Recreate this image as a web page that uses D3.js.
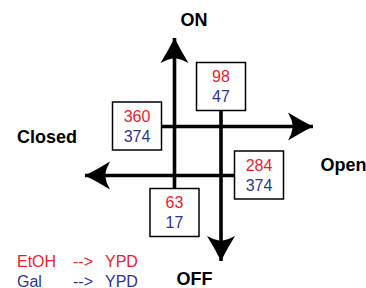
<!DOCTYPE html>
<html>
<head>
<meta charset="utf-8">
<script src="https://cdn.jsdelivr.net/npm/d3@7"></script>
<style>
  body { margin: 0; background: #fff; }
  svg { display: block; font-family: "Liberation Sans", Arial, Helvetica, sans-serif; }
</style>
</head>
<body>
<svg id="drawing_region"></svg>
<script>
// transition counts, one per direction (ON, OFF, Closed, Open)
const directions = ["ON", "OFF", "Closed", "Open"];
const etohValues = [98, 63, 360, 284];
const galValues = [47, 17, 374, 374];
const legendNames = ["EtOH", "Gal"];
const legendTarget = "YPD";
const seriesColors = ["#ec1c2b", "#2e3590"];

class StateDiagram {

    constructor( config ) {
        this.config = {
            parent: config.parent,
            width: config.width || 366,
            height: config.height || 288
        }
        this.init();
    }

    init() {
        let self = this;

        self.svg = d3.select( self.config.parent )
            .attr('width', self.config.width)
            .attr('height', self.config.height);

        // x / y in pixel space of the picture
        self.xscale = d3.scaleLinear().domain([0, 366]).range([0, self.config.width]);
        self.yscale = d3.scaleLinear().domain([0, 288]).range([0, self.config.height]);

        self.chart = self.svg.append('g');
    }

    render() {
        let self = this;
        const x = self.xscale, y = self.yscale;

        // where each box sits and where its arrow goes
        const layout = {
            ON:     { box: [221, 86.5], line: [[221, 111], [221, 261]], label: [194, 26] },
            OFF:    { box: [174.5, 212.5], line: [[174.5, 188], [174.5, 38]], label: [194.5, 284.5] },
            Closed: { box: [137, 126], line: [[162, 126.5], [313, 126.5]], label: [47, 143] },
            Open:   { box: [259, 175], line: [[234, 175.5], [85, 175.5]], label: [343.5, 171] }
        };

        const rows = directions.map( (d, i) => ({
            name: d, etoh: etohValues[i], gal: galValues[i], pos: layout[d]
        }));

        const arrow = 'M0,0 Q-12,-6 -25,-14 Q-21,-7 -20,0 Q-21,7 -25,14 Q-12,6 0,0 Z';

        // axis lines
        self.chart.selectAll('.axis')
            .data(rows)
            .enter()
            .append('line')
            .attr('class', 'axis')
            .attr('x1', d => x(d.pos.line[0][0]))
            .attr('y1', d => y(d.pos.line[0][1]))
            .attr('x2', d => x(d.pos.line[1][0]))
            .attr('y2', d => y(d.pos.line[1][1]))
            .attr('stroke', 'black')
            .attr('stroke-width', 3.6);

        self.chart.selectAll('.head')
            .data(rows)
            .enter()
            .append('path')
            .attr('class', 'head')
            .attr('d', arrow)
            .attr('fill', 'black')
            .attr('transform', d => {
                const [a, b] = d.pos.line;
                const ang = Math.atan2(b[1] - a[1], b[0] - a[0]) * 180 / Math.PI;
                return `translate(${x(b[0])},${y(b[1])}) rotate(${ang})`;
            });

        // boxes
        const bw = 49, bh = 48;
        const boxes = self.chart.selectAll('.box')
            .data(rows)
            .enter()
            .append('g')
            .attr('class', 'box')
            .attr('transform', d => `translate(${x(d.pos.box[0])},${y(d.pos.box[1])})`);

        boxes.append('rect')
            .attr('x', -bw / 2)
            .attr('y', -bh / 2)
            .attr('width', bw)
            .attr('height', bh)
            .attr('fill', 'white')
            .attr('stroke', 'black')
            .attr('stroke-width', 1.5);

        boxes.append('text')
            .attr('text-anchor', 'middle')
            .attr('y', -4.5)
            .style('font-size', '16px')
            .attr('fill', seriesColors[0])
            .text(d => d.etoh);

        boxes.append('text')
            .attr('text-anchor', 'middle')
            .attr('y', 15.5)
            .style('font-size', '16px')
            .attr('fill', seriesColors[1])
            .text(d => d.gal);

        // direction labels
        self.chart.selectAll('.dirlabel')
            .data(rows)
            .enter()
            .append('text')
            .attr('class', 'dirlabel')
            .attr('text-anchor', 'middle')
            .attr('x', d => x(d.pos.label[0]))
            .attr('y', d => y(d.pos.label[1]))
            .style('font-size', '18px')
            .style('font-weight', 'bold')
            .text(d => d.name);

        // legend
        const legend = self.chart.selectAll('.legend')
            .data(legendNames)
            .enter()
            .append('g')
            .attr('class', 'legend')
            .attr('fill', (d, i) => seriesColors[i])
            .style('font-size', '16px')
            .attr('transform', (d, i) => `translate(0,${y(267 + i * 19.5)})`);

        legend.append('text').attr('x', x(17)).text(d => d);
        legend.append('text').attr('x', x(73)).text('-->');
        legend.append('text').attr('x', x(105)).text(legendTarget);
    }
}

const diagram = new StateDiagram({ parent: '#drawing_region', width: 366, height: 288 });
diagram.render();
</script>
</body>
</html>
